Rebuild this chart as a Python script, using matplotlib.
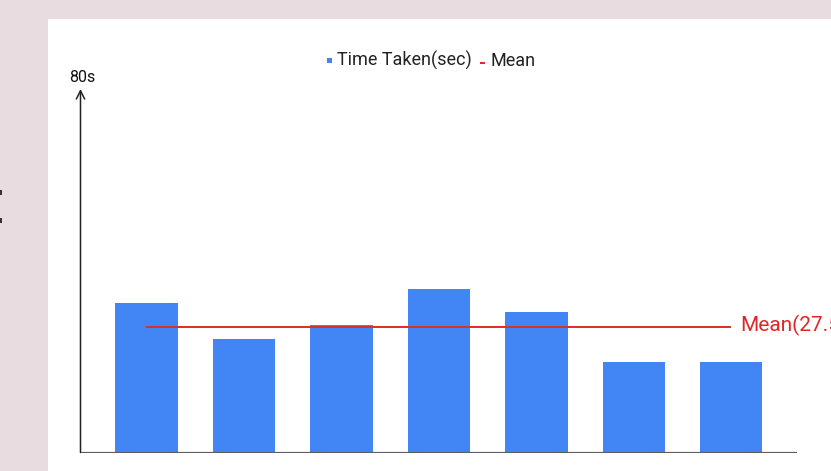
import numpy as np
import matplotlib
matplotlib.use('Agg')
import matplotlib.pyplot as plt
from matplotlib.patches import Rectangle

# ── Data ──────────────────────────────────────────────────────────────────────
runs       = np.arange(7)
time_taken = [33, 25, 28, 36, 31, 20, 20]   # seconds per run
y_max      = 80
mean_time  = float(np.mean(time_taken))

BLUE  = '#4285f4'
RED   = '#d93025'
PINK  = '#e8dce0'
FONT  = ['Roboto', 'DejaVu Sans']

# ── Figure ────────────────────────────────────────────────────────────────────
W, H = 831, 471
fig = plt.figure(figsize=(W / 100, H / 100), dpi=100)
fig.patch.set_facecolor(PINK)

def px(x0, y0, x1, y1):
    """pixel box (top-left origin) -> figure fraction rect"""
    return [x0 / W, 1 - y1 / H, (x1 - x0) / W, (y1 - y0) / H]

# white card behind the chart
fig.add_artist(Rectangle((48 / W, 0), 1, 1 - 19 / H, transform=fig.transFigure,
                         fc='white', ec='none', zorder=0))

# bits of clipped text at the far left edge
for y0 in (190, 218):
    fig.add_artist(Rectangle((0, 1 - (y0 + 5) / H), 2 / W, 5 / H,
                             transform=fig.transFigure, fc='#333', ec='none'))

ax = fig.add_axes(px(80.5, 89, 797, 452.5))
ax.set_facecolor('none')
ax.set_xlim(-0.677, 6.674)
ax.set_ylim(0, y_max)
ax.set_xticks([]); ax.set_yticks([])
for sp in ax.spines.values():
    sp.set_visible(False)

ax.bar(runs, time_taken, width=0.64, color=BLUE, zorder=2)

# mean line between first and last bar centres
ax.hlines(mean_time, runs[0], runs[-1], color=RED, lw=1.4, zorder=3)
ax.annotate(f'Mean({mean_time:.2f})', xy=(runs[-1], mean_time),
            xytext=(6.5, -2.8), textcoords='offset points',
            ha='left', va='baseline', color='#e02626', fontsize=15,
            family=FONT, annotation_clip=False)

# axes: grey baseline, black y arrow
ax.axhline(0, color='#5f5f5f', lw=1.6, zorder=4)
ax.annotate('', xy=(0, 1), xytext=(0, 0), xycoords='axes fraction',
            arrowprops=dict(arrowstyle='->', color='#222', lw=1.1,
                            shrinkA=0, shrinkB=0, mutation_scale=15))
ax.annotate(f'{y_max}s', xy=(0, 1), xycoords='axes fraction',
            xytext=(1.5, 3), textcoords='offset points',
            ha='center', va='bottom', fontsize=11.5, color='#111', family=FONT)

# ── Legend ────────────────────────────────────────────────────────────────────
leg_y = 1 - 60.5 / H
fig.add_artist(Rectangle((326.5 / W, 1 - 62.5 / H), 5 / W, 5 / H,
                         transform=fig.transFigure, fc=BLUE, ec='none'))
fig.text(337 / W, leg_y, 'Time Taken(sec)', ha='left', va='center',
         fontsize=13, family=FONT, color='#222')
fig.add_artist(Rectangle((480 / W, 1 - 64 / H), 5 / W, 2.5 / H,
                         transform=fig.transFigure, fc=RED, ec='none'))
fig.text(490.5 / W, leg_y, 'Mean', ha='left', va='center',
         fontsize=13, family=FONT, color='#222')

fig.savefig('out.png', dpi=100, facecolor=fig.get_facecolor())
